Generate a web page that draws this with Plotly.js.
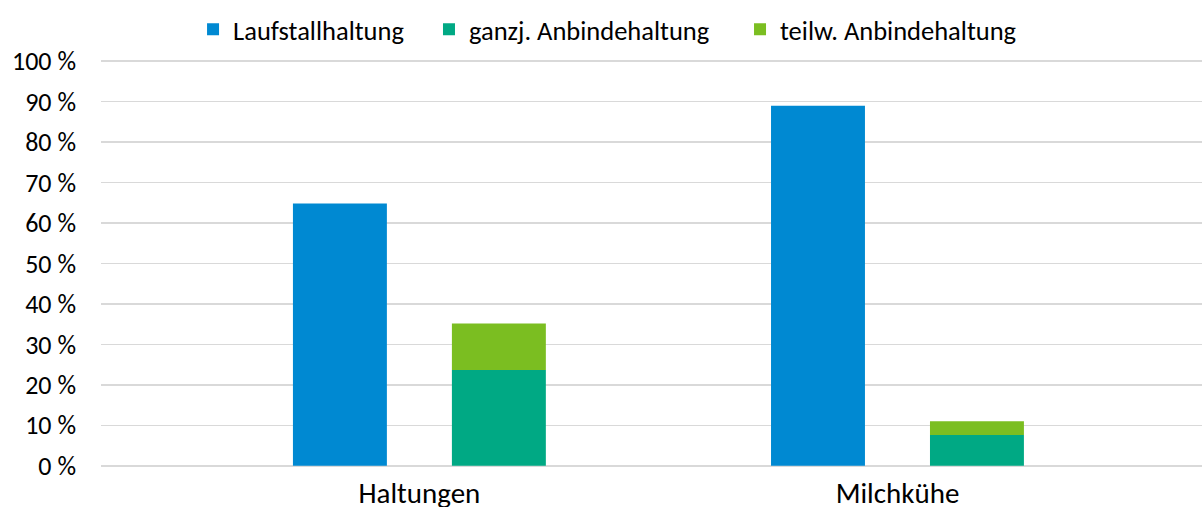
<!DOCTYPE html>
<html>
<head>
<meta charset="utf-8">
<script src="https://cdn.plot.ly/plotly-3.0.1.min.js"></script>
<style>html,body{margin:0;padding:0;background:#fff;}#chart{width:1202px;height:507px;}</style>
</head>
<body>
<div id="chart"></div>
<script>
const categories = ["Haltungen", "Milchkühe"];
const laufstall = [64.8, 89.0];
const ganzj = [23.7, 7.6];
const teilw = [11.5, 3.4];
const yTicks = [0, 10, 20, 30, 40, 50, 60, 70, 80, 90, 100];

const FONT = "Carlito, Calibri, 'Noto Sans', sans-serif";

const traces = [
  {type: "bar", name: "Laufstallhaltung", x: categories, y: laufstall, offsetgroup: "a",
   marker: {color: "#0089D2"}, hoverinfo: "skip", legend: "legend"},
  {type: "bar", name: "ganzj. Anbindehaltung", x: categories, y: ganzj, offsetgroup: "b",
   marker: {color: "#00A984"}, hoverinfo: "skip", legend: "legend2"},
  {type: "bar", name: "teilw. Anbindehaltung", x: categories, y: teilw, base: ganzj, offsetgroup: "b",
   marker: {color: "#7BBE21"}, hoverinfo: "skip", legend: "legend3"}
];

function leg(x) {
  return {orientation: "h", x: x, xanchor: "left", yref: "container", y: 0.9418, yanchor: "middle",
          font: {family: FONT, size: 26.5, color: "#000"}, itemwidth: 30, bgcolor: "rgba(0,0,0,0)"};
}

const layout = {
  width: 1202, height: 507,
  margin: {l: 101, r: 0, t: 60, b: 40},
  paper_bgcolor: "#fff", plot_bgcolor: "#fff",
  font: {family: FONT, size: 26, color: "#000"},
  barmode: "group",
  bargap: 0.335,
  bargroupgap: 0.409,
  showlegend: true,
  legend: leg(0.0836),
  legend2: leg(0.2979),
  legend3: leg(0.5804),
  xaxis: {type: "category", range: [-0.666, 1.637], showgrid: false, zeroline: false,
          showline: false, ticks: "", ticklabelstandoff: 6,
          tickfont: {family: FONT, size: 29, color: "#000"}},
  yaxis: {range: [-0.3, 100.3], tickvals: yTicks, ticktext: yTicks.map(v => v + " %"),
          showgrid: true, gridcolor: "#D9D9D9", gridwidth: 1.5, zeroline: false,
          showline: false, ticks: "", ticklabelstandoff: 24,
          tickfont: {family: FONT, size: 26, color: "#000"}}
};

Plotly.newPlot("chart", traces, layout, {staticPlot: true, displayModeBar: false});
</script>
</body>
</html>
